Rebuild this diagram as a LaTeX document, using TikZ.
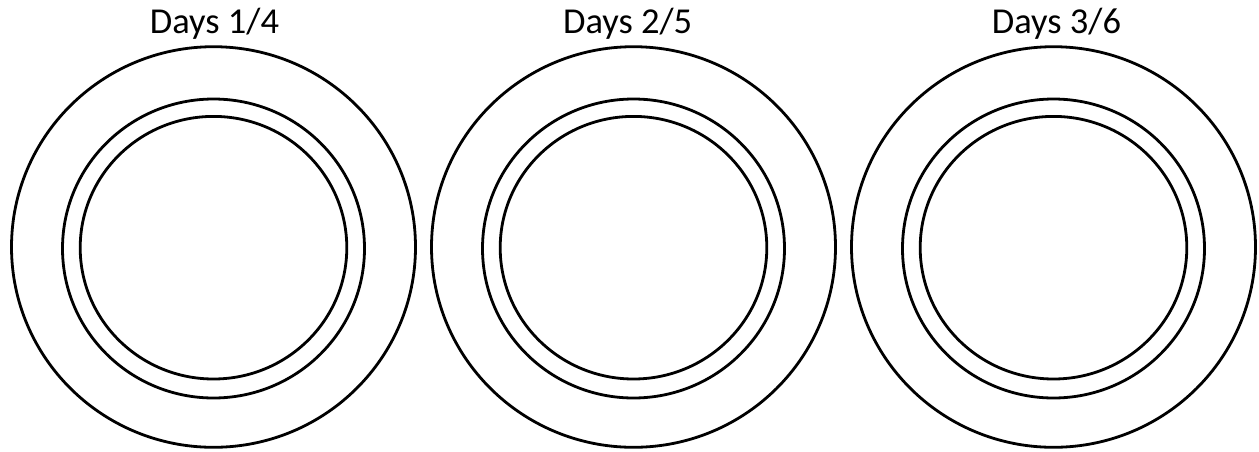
\documentclass[tikz,border=0pt]{standalone}
\usepackage{fontspec}
\setmainfont{Carlito}
\begin{document}
\begin{tikzpicture}[x=1pt,y=-1pt,
  ring/.style={draw=black,line width=2.8pt},
  daylabel/.style={anchor=base,inner sep=0pt,font=\fontsize{36.5}{42}\selectfont}]
\useasboundingbox (0,0) rectangle (1259,451);
\foreach \i/\cx/\lx/\t in {1/213.5/214.5/Days 1\slash 4,2/633.5/627.7/Days 2\slash 5,3/1053.5/1056.5/Days 3\slash 6}{
  \draw[ring] (\cx,247) ellipse [x radius=202,y radius=200.3];
  \draw[ring] (\cx,248.5) ellipse [x radius=151,y radius=149.5];
  \draw[ring] (\cx,247.7) ellipse [x radius=133.3,y radius=131.3];
  \node[daylabel] (lab\i) at (\lx,33.3) {\t};
}
\end{tikzpicture}
\end{document}
